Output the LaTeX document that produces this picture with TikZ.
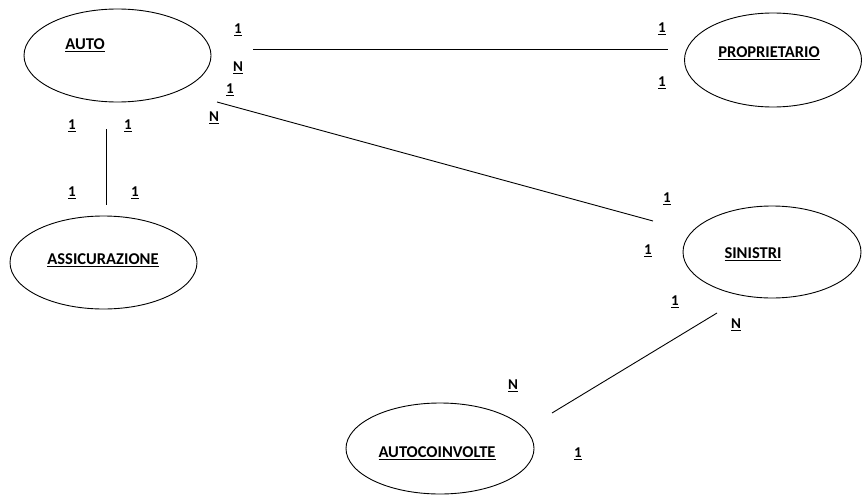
\documentclass[tikz,border=0pt]{standalone}
\usepackage{fontspec}
\setmainfont{Carlito}
\usetikzlibrary{shapes.geometric}
\begin{document}
\begin{tikzpicture}[x=1pt,y=-1pt,
  ent/.style={draw, ellipse, line width=0.9pt, inner sep=0pt},
  lbl/.style={font=\fontsize{16.5}{18}\selectfont\bfseries, inner sep=0pt},
  card/.style={font=\fontsize{15}{17}\selectfont\bfseries, inner sep=0pt},
  rel/.style={line width=0.9pt}]
\useasboundingbox (0,0) rectangle (864,495);
% entities
\node[ent, minimum width=187pt, minimum height=93pt] (auto) at (117.5,55.5) {};
\node[ent, minimum width=177pt, minimum height=94pt] (prop) at (773,60) {};
\node[ent, minimum width=187pt, minimum height=93pt] (assic) at (103.5,262.5) {};
\node[ent, minimum width=178pt, minimum height=92pt] (sin) at (772,252) {};
\node[ent, minimum width=188pt, minimum height=91pt] (autoc) at (440,448.5) {};
% entity names
\node[lbl] (tauto) at (85,45) {\underline{AUTO}};
\node[lbl] (tprop) at (769,53) {\underline{PROPRIETARIO}};
\node[lbl] (tassic) at (103,260) {\underline{ASSICURAZIONE}};
\node[lbl] (tsin) at (753,254) {\underline{SINISTRI}};
\node[lbl] (tautoc) at (437,453) {\underline{AUTOCOINVOLTE}};
% connector endpoints
\coordinate (ap1) at (253,49);
\coordinate (ap2) at (668,49);
\coordinate (as1) at (217,102);
\coordinate (as2) at (653,221);
\coordinate (aa1) at (106,129);
\coordinate (aa2) at (106,205);
\coordinate (sa1) at (717,313);
\coordinate (sa2) at (552,413);
\draw[rel] (ap1) -- (ap2);
\draw[rel] (as1) -- (as2);
\draw[rel] (aa1) -- (aa2);
\draw[rel] (sa1) -- (sa2);
% cardinalities
\node[card] (c1) at (238,30) {\underline{1}};
\node[card] (c2) at (238,68) {\underline{N}};
\node[card] (c3) at (230,90) {\underline{1}};
\node[card] (c4) at (214,118) {\underline{N}};
\node[card] (c5) at (72,126) {\underline{1}};
\node[card] (c6) at (128,126) {\underline{1}};
\node[card] (c7) at (72,193) {\underline{1}};
\node[card] (c8) at (135,193) {\underline{1}};
\node[card] (c9) at (662,29) {\underline{1}};
\node[card] (c10) at (662,83) {\underline{1}};
\node[card] (c11) at (667,199) {\underline{1}};
\node[card] (c12) at (648,251) {\underline{1}};
\node[card] (c13) at (675,302) {\underline{1}};
\node[card] (c14) at (736,325) {\underline{N}};
\node[card] (c15) at (513,386) {\underline{N}};
\node[card] (c16) at (578,454) {\underline{1}};
\end{tikzpicture}
\end{document}
